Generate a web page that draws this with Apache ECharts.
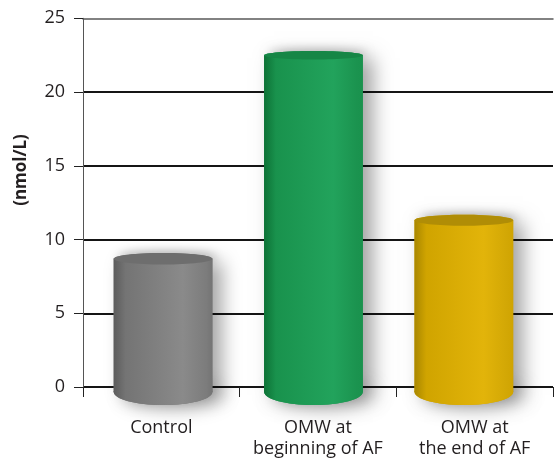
<!DOCTYPE html>
<html>
<head>
<meta charset="utf-8">
<script src="https://cdn.jsdelivr.net/npm/echarts@6/dist/echarts.min.js"></script>
<style>
  html, body { margin: 0; padding: 0; background: #fff; }
  #chart { width: 559px; height: 459px; }
</style>
</head>
<body>
<div id="chart"></div>
<script>
// Concentration by group
const categories = ['Control', 'OMW at\nbeginning of AF', 'OMW at\nthe end of AF'];
const values = [8.7, 22.5, 11.3];
const yTicks = { min: 0, max: 25, interval: 5 };
const axisTitle = '(nmol/L)';

// Cylinder palettes: [left edge, mid, highlight, right edge, cap]
const palettes = [
  ['#5c5c5c', '#747474', '#8a8a8a', '#7c7c7c', '#6e6e6e'],
  ['#0d7236', '#19924d', '#22a35c', '#1b934f', '#168646'],
  ['#a98700', '#d0a400', '#e2b40a', '#d2a705', '#b08d06']
];

const FONT = '"Open Sans", "Liberation Sans", sans-serif';
const INK = '#231f20';

const chart = echarts.init(document.getElementById('chart'), null, { renderer: 'canvas' });

function hGrad(p) {
  return new echarts.graphic.LinearGradient(0, 0, 1, 0, [
    { offset: 0, color: p[0] },
    { offset: 0.12, color: p[1] },
    { offset: 0.7, color: p[2] },
    { offset: 0.94, color: p[3] },
    { offset: 1, color: p[1] }
  ]);
}

function renderCylinder(params, api) {
  const cat = api.value(0);
  const val = api.value(1);
  const top = api.coord([cat, val]);
  const base = api.coord([cat, 0]);
  const band = api.size([1, 0])[0];
  const rx = band * 0.63 / 2;
  const grid = params.coordSys;
  // slight perspective drift toward the viewpoint
  const cx = top[0] - 0.04 * (top[0] - 204);
  const yTop = top[1];
  const ryTop = 4 + 0.0075 * (yTop - grid.y);
  const yBase = base[1] + 5;
  const ryBase = 13;
  const p = palettes[params.dataIndex];

  const shadow = {
    shadowBlur: 18,
    shadowOffsetX: 10,
    shadowOffsetY: 3,
    shadowColor: 'rgba(0,0,0,0.36)'
  };

  return {
    type: 'group',
    children: [
      // soft silhouette shadow
      {
        type: 'rect',
        shape: { x: cx - rx, y: yTop, width: rx * 2, height: yBase - yTop },
        style: Object.assign({ fill: p[1] }, shadow)
      },
      {
        type: 'ellipse',
        shape: { cx: cx, cy: yBase, rx: rx, ry: ryBase },
        style: Object.assign({ fill: p[1] }, shadow)
      },
      {
        type: 'ellipse',
        shape: { cx: cx, cy: yTop, rx: rx, ry: ryTop },
        style: { fill: p[1], shadowBlur: 10, shadowOffsetX: 4, shadowOffsetY: -2, shadowColor: 'rgba(0,0,0,0.25)' }
      },
      // body
      {
        type: 'ellipse',
        shape: { cx: cx, cy: yBase, rx: rx, ry: ryBase },
        style: { fill: hGrad(p) }
      },
      {
        type: 'rect',
        shape: { x: cx - rx, y: yTop, width: rx * 2, height: yBase - yTop },
        style: { fill: hGrad(p) }
      },
      // cap
      {
        type: 'ellipse',
        shape: { cx: cx, cy: yTop, rx: rx, ry: ryTop },
        style: { fill: p[4] }
      }
    ]
  };
}

chart.setOption({
  animation: false,
  backgroundColor: '#ffffff',
  grid: { left: 83, right: 6, top: 18.3, bottom: 71.7, containLabel: false },
  xAxis: [
    {
      type: 'category',
      data: categories,
      position: 'bottom',
      axisLine: { show: false },
      axisTick: { show: true, length: 10, lineStyle: { color: '#222', width: 1 } },
      axisLabel: {
        color: INK, fontFamily: FONT, fontSize: 18, lineHeight: 21,
        margin: 30, interval: 0
      },
      splitLine: { show: false }
    },
    {
      type: 'category',
      data: categories,
      position: 'top',
      axisLine: { show: true, lineStyle: { color: '#5a5a5a', width: 1.5 } },
      axisTick: { show: false },
      axisLabel: { show: false }
    }
  ],
  yAxis: {
    type: 'value',
    min: yTicks.min,
    max: yTicks.max,
    interval: yTicks.interval,
    axisLine: { show: true, lineStyle: { color: '#555', width: 1 } },
    axisTick: { show: true, length: 9, lineStyle: { color: '#222', width: 1 } },
    axisLabel: { color: INK, fontFamily: FONT, fontSize: 18, margin: 18 },
    splitLine: {
      show: true,
      showMaxLine: false,
      lineStyle: { color: '#151515', width: 2.2 }
    }
  },
  graphic: [
    {
      type: 'text',
      x: 21,
      y: 170,
      rotation: Math.PI / 2,
      style: {
        text: axisTitle,
        fill: INK,
        font: 'bold 17px ' + FONT,
        align: 'center',
        verticalAlign: 'middle'
      }
    }
  ],
  series: [
    {
      type: 'custom',
      xAxisIndex: 0,
      renderItem: renderCylinder,
      encode: { x: 0, y: 1 },
      data: values.map((v, i) => [i, v]),
      z: 5
    }
  ]
});
</script>
</body>
</html>
